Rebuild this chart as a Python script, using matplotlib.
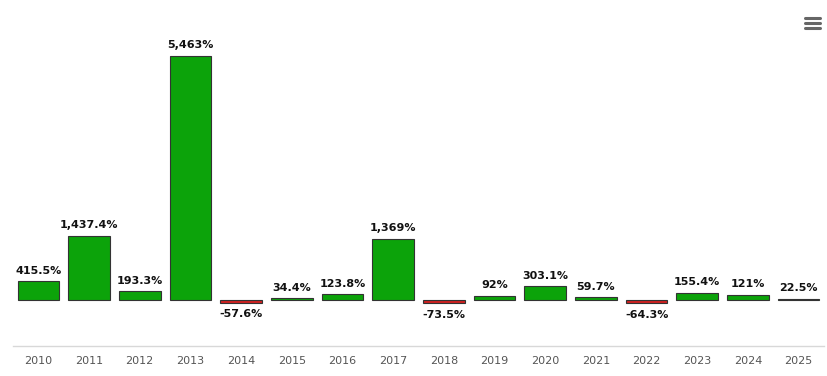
import matplotlib
matplotlib.use("Agg")
import matplotlib.pyplot as plt
from matplotlib.lines import Line2D

years = [str(y) for y in range(2010, 2026)]
values = [415.5, 1437.4, 193.3, 5463, -57.6, 34.4, 123.8, 1369, -73.5, 92,
          303.1, 59.7, -64.3, 155.4, 121, 22.5]

def fmt(v):
    s = f"{v:,.1f}"
    if s.endswith(".0"):
        s = s[:-2]
    return s + "%"

fig = plt.figure(figsize=(8.27, 3.76), dpi=100)
ax = fig.add_axes([13/827, 30/376, 811/827, 326/376])
colors = ["#0ca30a" if v >= 0 else "#d02020" for v in values]
x = list(range(len(years)))
ax.bar(x, values, width=0.82, color=colors, edgecolor="#333333", linewidth=0.8)
ax.set_xlim(-0.5, len(years) - 0.5)
ax.set_ylim(-1030, 6260)
for xi, v in zip(x, values):
    if v >= 0:
        ax.annotate(fmt(v), (xi, v), xytext=(0, 4), textcoords="offset points",
                    ha="center", va="bottom", fontsize=8, fontweight="bold", color="#111111")
    else:
        ax.annotate(fmt(v), (xi, v), xytext=(0, -5), textcoords="offset points",
                    ha="center", va="top", fontsize=8, fontweight="bold", color="#111111")
ax.set_xticks(x)
ax.set_xticklabels(years, fontsize=8, color="#555555")
ax.tick_params(axis="x", length=0, pad=7)
ax.set_yticks([])
for s in ["top", "right", "left"]:
    ax.spines[s].set_visible(False)
ax.spines["bottom"].set_color("#d8d8d8")
ax.spines["bottom"].set_linewidth(1)

# menu icon
for yy in [18, 23, 28]:
    fig.add_artist(Line2D([805/827, 820/827], [1 - yy/376, 1 - yy/376],
                          color="#666666", linewidth=2.2, solid_capstyle="round"))

fig.savefig("out.png", dpi=100)
